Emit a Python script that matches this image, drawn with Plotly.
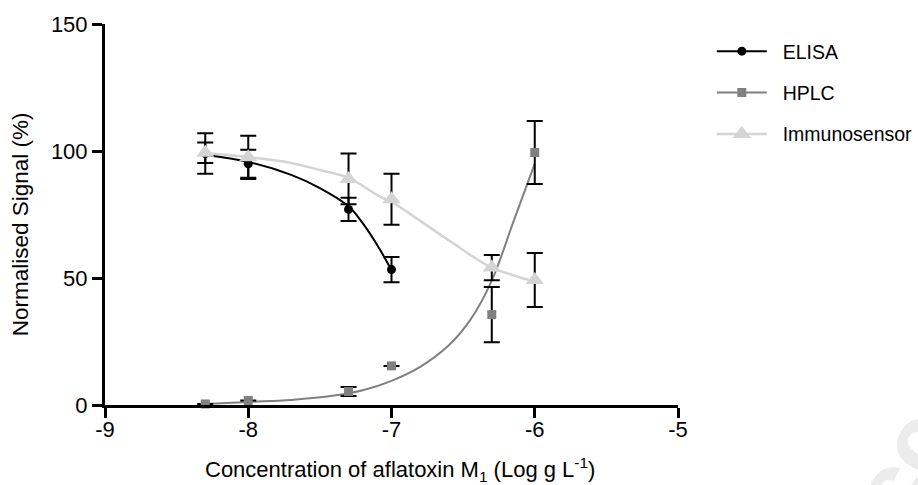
import plotly.graph_objects as go

# ---- data ----
conc = [-8.3, -8.0, -7.3, -7.0, -6.3, -6.0]

elisa_x = [-8.3, -8.0, -7.3, -7.0]
elisa_y = [99.0, 95.0, 77.0, 53.3]
elisa_err = [8.0, 5.5, 4.6, 5.0]

hplc_x = conc
hplc_y = [0.4, 1.8, 5.3, 15.4, 35.6, 99.4]
hplc_err = [None, None, 1.8, None, 10.9, 12.4]

immuno_x = conc
immuno_y = [99.3, 97.5, 89.0, 81.0, 54.1, 49.2]
immuno_err = [4.0, 8.5, 10.0, 10.0, 5.0, 10.6]

# fitted curves
elisa_fit_x = [-8.3, -8.0, -7.7, -7.5, -7.3, -7.2, -7.1, -7.0]
elisa_fit_y = [98.4, 95.7, 90.6, 85.4, 78.2, 71.5, 63.0, 53.1]

immuno_fit_x = [-8.3, -8.0, -7.7, -7.5, -7.3, -7.08, -7.0, -6.62, -6.316, -6.156, -6.0]
immuno_fit_y = [99.2, 97.6, 95.3, 92.5, 89.4, 82.0, 80.0, 65.6, 54.5, 51.2, 48.5]

hplc_fit_x = [-8.3, -8.0, -7.7, -7.4, -7.2, -7.0, -6.8, -6.6, -6.45, -6.3, -6.15, -6.0]
hplc_fit_y = [0.4, 1.2, 2.0, 3.7, 5.8, 9.5, 15.0, 23.5, 33.5, 49.0, 72.0, 95.0]

names = ["ELISA", "HPLC", "Immunosensor"]
x_ticks = [-9, -8, -7, -6, -5]
y_ticks = [0, 50, 100, 150]

C_ELISA = "#000000"
C_HPLC = "#808080"
C_IMM = "#d4d4d4"
FONT = "Liberation Sans, Arial, sans-serif"

fig = go.Figure()

# fitted curves
fig.add_trace(go.Scatter(x=hplc_fit_x, y=hplc_fit_y, mode="lines", line=dict(color=C_HPLC, width=2, shape="spline", smoothing=1.0), showlegend=False, hoverinfo="skip"))
fig.add_trace(go.Scatter(x=immuno_fit_x, y=immuno_fit_y, mode="lines", line=dict(color=C_IMM, width=2.5, shape="spline", smoothing=1.0), showlegend=False, hoverinfo="skip"))
fig.add_trace(go.Scatter(x=elisa_fit_x, y=elisa_fit_y, mode="lines", line=dict(color=C_ELISA, width=2, shape="spline", smoothing=1.0), showlegend=False, hoverinfo="skip"))

eb = dict(type="data", visible=True, color="black", thickness=2, width=8)

fig.add_trace(go.Scatter(x=hplc_x, y=hplc_y, mode="markers", marker=dict(symbol="square", size=9, color=C_HPLC),
                         error_y=dict(array=hplc_err, **eb), showlegend=False, cliponaxis=False))
fig.add_trace(go.Scatter(x=elisa_x, y=elisa_y, mode="markers", marker=dict(symbol="circle", size=9, color=C_ELISA),
                         error_y=dict(array=elisa_err, **eb), showlegend=False, cliponaxis=False))
fig.add_trace(go.Scatter(x=immuno_x, y=immuno_y, mode="markers", marker=dict(symbol="triangle-up", size=16, color=C_IMM),
                         error_y=dict(array=immuno_err, **eb), showlegend=False, cliponaxis=False))

# legend entries
leg_styles = [
    (C_ELISA, "circle", 9, 2),
    (C_HPLC, "square", 9, 2),
    (C_IMM, "triangle-up", 16, 2.5),
]
for nm, (col, sym, sz, lw) in zip(names, leg_styles):
    fig.add_trace(go.Scatter(x=[None], y=[None], mode="lines+markers", name="\u00a0\u00a0" + nm, legendgroup=nm,
                             line=dict(color=col, width=lw), marker=dict(symbol=sym, size=sz, color=col)))

axis_common = dict(showline=True, linecolor="black", linewidth=3, ticks="outside", ticklen=10, tickwidth=3,
                   tickcolor="black", showgrid=False, zeroline=False,
                   tickfont=dict(family=FONT, size=22, color="black"))

fig.update_layout(
    width=918, height=485, autosize=False,
    margin=dict(l=105, r=240, t=24, b=80, autoexpand=False),
    plot_bgcolor="white", paper_bgcolor="white",
    xaxis=dict(range=[-9, -5], tickvals=x_ticks, ticktext=[str(v) for v in x_ticks], ticklabelstandoff=-7, **axis_common),
    yaxis=dict(range=[0, 150], tickvals=y_ticks, ticktext=[str(v) for v in y_ticks], **axis_common),
    legend=dict(x=1.059, xanchor="left", y=0.979, yanchor="top", traceorder="grouped", tracegroupgap=13,
                itemwidth=50, font=dict(family=FONT, size=19.5, color="black"), bgcolor="rgba(0,0,0,0)"),
    annotations=[
        dict(text="Concentration of aflatoxin M<sub>1</sub> (Log g L<sup>-1</sup>)", xref="paper", yref="paper",
             x=0.515, y=-0.17, xanchor="center", yanchor="middle", showarrow=False,
             font=dict(family=FONT, size=22, color="black")),
        dict(text="Normalised Signal (%)", xref="paper", yref="paper", x=-0.148, y=0.475, textangle=-90,
             xanchor="center", yanchor="middle", showarrow=False, font=dict(family=FONT, size=22.5, color="black")),
        # faint watermark in the bottom-right corner
        dict(text="<b>Accepted Manuscript</b>", xref="paper", yref="paper", x=1.722, y=0.698, textangle=-60,
             xanchor="center", yanchor="middle", showarrow=False,
             font=dict(family=FONT, size=100, color="#ececec")),
    ],
)

fig.write_html("out.html")
